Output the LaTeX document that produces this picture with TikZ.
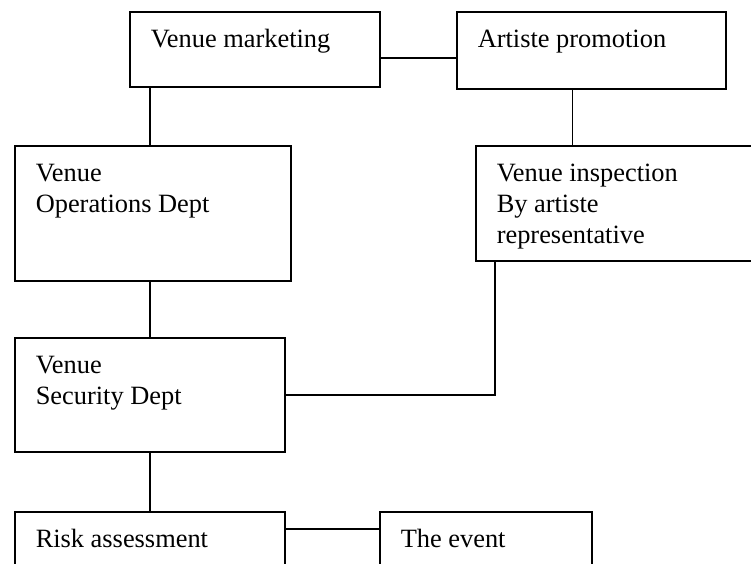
\documentclass[tikz,border=0pt]{standalone}
\usepackage{fontspec}
\setmainfont{Liberation Serif}
\usepackage{tikz}

\newcommand{\cellbox}[3]{\parbox[c][#2][t]{#1}{\raggedright\leftskip=21pt\rule{0pt}{36pt}#3}}

\begin{document}
\begin{tikzpicture}[x=1pt,y=-1pt,line width=1.5pt,
    unit/.style={draw,rectangle,inner sep=0pt,anchor=north west,font=\fontsize{26.4}{31}\selectfont}]
    \useasboundingbox (0,0) rectangle (751,563);
    \node[unit] (marketing) at (129,11) {\cellbox{250pt}{75pt}{Venue marketing}};
    \node[unit] (promo) at (456,11) {\cellbox{269pt}{77pt}{Artiste promotion}};
    \node[unit] (ops) at (14,145) {\cellbox{276pt}{135pt}{Venue\\Operations Dept}};
    \node[unit] (insp) at (475,145) {\cellbox{320pt}{115pt}{Venue inspection\\By artiste\\representative}};
    \node[unit] (sec) at (14,337) {\cellbox{270pt}{114pt}{Venue\\Security Dept}};
    \node[unit] (risk) at (14,511) {\cellbox{270pt}{80pt}{Risk assessment}};
    \node[unit] (event) at (379,511) {\cellbox{212pt}{80pt}{The event}};

    \draw ([yshift=-8.5pt]marketing.east) -- ([yshift=-8.5pt]marketing.east -| promo.west);
    \draw (marketing.south -| sec.north) -- (ops.north -| sec.north);
    \draw (ops.south -| sec.north) -- (sec.north);
    \draw ([xshift=-19pt]promo.south) -- ([xshift=-19pt]promo.south |- insp.north);
    \draw ([xshift=20pt]insp.south west) |- (sec.east);
    \draw (sec.south) -- (risk.north);
    \draw ([yshift=-18pt]risk.north east) -- ([yshift=-18pt]risk.north east -| event.west);
\end{tikzpicture}
\end{document}
